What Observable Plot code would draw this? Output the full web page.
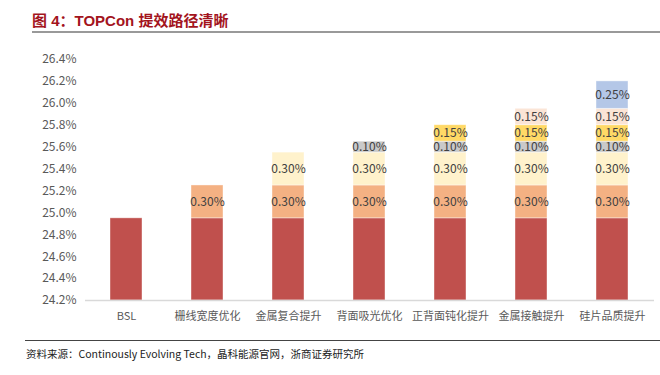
<!DOCTYPE html>
<html>
<head>
<meta charset="utf-8">
<script src="https://cdn.jsdelivr.net/npm/d3@7"></script>
<script src="https://cdn.jsdelivr.net/npm/@observablehq/plot@0.6"></script>
<style>
  html, body { margin: 0; padding: 0; background: #fff; }
  #wrap { position: relative; width: 660px; height: 375px; overflow: hidden; font-family: "Noto Sans CJK SC", "Noto Sans", sans-serif; }
  #title { position: absolute; left: 32px; top: 9px; font-size: 15px; font-weight: bold; color: #A3141D; white-space: nowrap; font-family: "Liberation Sans", "Noto Sans CJK SC", sans-serif; }
  #titleLine { position: absolute; left: 32px; top: 31px; width: 628px; height: 2px; background: #999; }
  #chart { position: absolute; left: 0; top: 40px; }
  #srcLine { position: absolute; left: 25px; top: 340px; width: 635px; height: 1px; background: #444; }
  #source { position: absolute; left: 26px; top: 346px; font-size: 10.5px; color: #222; white-space: nowrap; }
</style>
</head>
<body>
<div id="wrap">
  <div id="title">图 4：TOPCon 提效路径清晰</div>
  <div id="titleLine"></div>
  <div id="chart"></div>
  <div id="srcLine"></div>
  <div id="source">资料来源：Continously Evolving Tech，晶科能源官网，浙商证券研究所</div>
</div>
<script>
// ---- data ----
const categories = ["BSL", "栅线宽度优化", "金属复合提升", "背面吸光优化", "正背面钝化提升", "金属接触提升", "硅片品质提升"];
const baseValue = 24.95;
const stepValues = [0.30, 0.30, 0.10, 0.15, 0.15, 0.25];
const stepLabels = ["0.30%", "0.30%", "0.10%", "0.15%", "0.15%", "0.25%"];
const yTickValues = [24.2, 24.4, 24.6, 24.8, 25.0, 25.2, 25.4, 25.6, 25.8, 26.0, 26.2, 26.4];
const yTickLabels = ["24.2%", "24.4%", "24.6%", "24.8%", "25.0%", "25.2%", "25.4%", "25.6%", "25.8%", "26.0%", "26.2%", "26.4%"];
const segmentColors = ["#C0504D", "#F4B183", "#FFF2CC", "#C9C9C9", "#FFD966", "#FBE5D6", "#B4C7E7"];

const yMin = yTickValues[0];
const yMax = yTickValues[yTickValues.length - 1];

// build stacked segments
const rows = [];
categories.forEach((cat, i) => {
  rows.push({cat, y1: yMin, y2: baseValue, seg: 0, label: ""});
  let cum = baseValue;
  for (let j = 0; j < i; j++) {
    rows.push({cat, y1: cum, y2: cum + stepValues[j], seg: j + 1, label: stepLabels[j]});
    cum += stepValues[j];
  }
});

const chart = Plot.plot({
  width: 660,
  height: 295,
  marginTop: 19,
  marginBottom: 35,
  marginLeft: 85,
  marginRight: 6,
  style: {fontFamily: '"Noto Sans CJK SC", "Noto Sans", sans-serif', fontSize: "12px", color: "#595959", background: "transparent"},
  x: {domain: categories, paddingInner: 0.6, paddingOuter: 0.3, label: null},
  y: {domain: [yMin, yMax], label: null},
  color: {type: "identity"},
  marks: [
    Plot.barY(rows, {x: "cat", y1: "y1", y2: "y2", fill: d => segmentColors[d.seg], stroke: "#ffffff", strokeOpacity: 0.5, strokeWidth: 0.8}),
    Plot.ruleY([yMin], {stroke: "#d9d9d9", strokeWidth: 1.5}),
    Plot.text(rows.filter(d => d.seg > 0), {x: "cat", y: d => (d.y1 + d.y2) / 2, text: "label", fill: "#404040", fontSize: 12}),
    Plot.axisY({ticks: yTickValues, tickFormat: d => yTickLabels[yTickValues.indexOf(d)], tickSize: 0, tickPadding: 9, label: null, fontSize: 12}),
    Plot.axisX({tickSize: 0, tickPadding: 12, label: null, fontSize: 11})
  ]
});
document.getElementById("chart").appendChild(chart);
</script>
</body>
</html>
